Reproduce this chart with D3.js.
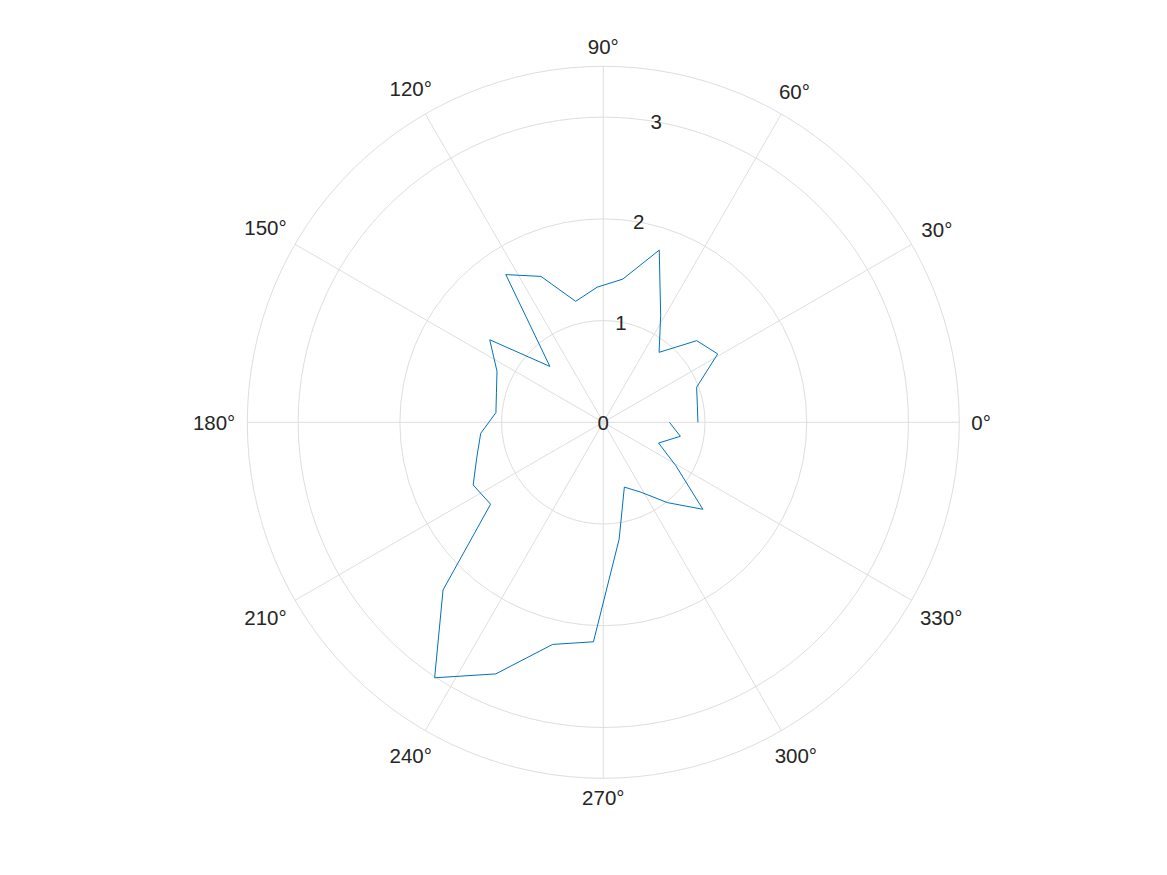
<!DOCTYPE html>
<html>
<head>
<meta charset="utf-8">
<script src="https://cdn.jsdelivr.net/npm/d3@7"></script>
<style>
  html, body { margin: 0; padding: 0; background: #fff; }
  svg { display: block; }
  text { font-family: "Liberation Sans", Arial, Helvetica, sans-serif; fill: #262626; }
</style>
</head>
<body>
<svg id="chart" width="1167" height="875"></svg>
<script>
// Angles in degrees (MATLAB polarplot, counter-clockwise from east)
const thetaDeg = [0, 10.29, 20.57, 30.86, 41.14, 51.43, 61.71, 72.00, 82.29, 92.57,
  102.86, 113.14, 123.43, 133.71, 144.00, 154.29, 164.57, 174.86, 185.14, 195.43,
  205.71, 216.00, 226.29, 236.57, 246.86, 257.14, 267.43, 277.71, 288.00, 298.29,
  308.57, 318.86, 329.14, 339.43, 349.71, 360.00];
// Radius values
const rValues = [0.93, 0.94, 0.98, 1.31, 1.22, 0.88, 1.19, 1.78, 1.42, 1.33,
  1.22, 1.56, 1.74, 0.76, 1.38, 1.16, 1.09, 1.06, 1.21, 1.29,
  1.42, 1.37, 2.28, 3.01, 2.69, 2.24, 2.16, 1.16, 0.67, 0.78,
  1.01, 1.30, 0.83, 0.58, 0.77, 0.65];
// Axis ticks
const rTicks = [0, 1, 2, 3];
const rLimit = 3.5;
const thetaTicks = [0, 30, 60, 90, 120, 150, 180, 210, 240, 270, 300, 330];
const thetaTickLabels = thetaTicks.map(d => d + "°");

const cx = 603.3, cy = 422.3, R = 356;
const svg = d3.select("#chart");
const g = svg.append("g").attr("transform", `translate(${cx},${cy})`);

const rScale = d3.scaleLinear().domain([0, rLimit]).range([0, R]);
const toRad = d => d * Math.PI / 180;
const gridColor = "#dedede";

// Rings
g.selectAll("circle.ring")
  .data(rTicks.filter(d => d > 0).concat([rLimit]))
  .join("circle")
  .attr("class", "ring")
  .attr("r", d => rScale(d))
  .attr("fill", "none")
  .attr("stroke", gridColor)
  .attr("stroke-width", 1);

// Spokes
g.selectAll("line.spoke")
  .data(thetaTicks)
  .join("line")
  .attr("class", "spoke")
  .attr("x1", 0).attr("y1", 0)
  .attr("x2", d => rScale(rLimit) * Math.cos(toRad(d)))
  .attr("y2", d => -rScale(rLimit) * Math.sin(toRad(d)))
  .attr("stroke", gridColor)
  .attr("stroke-width", 1);

// Data line
const data = thetaDeg.map((t, i) => ({ t, r: rValues[i] }));
const line = d3.lineRadial()
  .angle(d => Math.PI / 2 - toRad(d.t))
  .radius(d => rScale(d.r));
g.append("path")
  .datum(data)
  .attr("d", line)
  .attr("fill", "none")
  .attr("stroke", "#0072BD")
  .attr("stroke-width", 1)
  .attr("stroke-linejoin", "miter");

// Theta labels
const fontSize = 20.5, capH = 15, gap = 12;
thetaTicks.forEach((d, i) => {
  const ux = Math.cos(toRad(d)), uy = Math.sin(toRad(d));
  const t = g.append("text")
    .attr("font-size", fontSize)
    .attr("text-anchor", "middle")
    .text(thetaTickLabels[i]);
  const w = t.node().getComputedTextLength();
  const dist = R + gap + Math.abs(ux) * w / 2 + Math.abs(uy) * capH / 2;
  t.attr("x", dist * ux)
   .attr("y", -dist * uy + capH / 2);
});

// R labels along 80 degrees
const rAng = toRad(80);
g.selectAll("text.rlab")
  .data(rTicks)
  .join("text")
  .attr("class", "rlab")
  .attr("font-size", fontSize)
  .attr("text-anchor", "middle")
  .attr("x", d => rScale(d) * Math.cos(rAng))
  .attr("y", d => -rScale(d) * Math.sin(rAng) + capH / 2)
  .text(d => d);
</script>
</body>
</html>
